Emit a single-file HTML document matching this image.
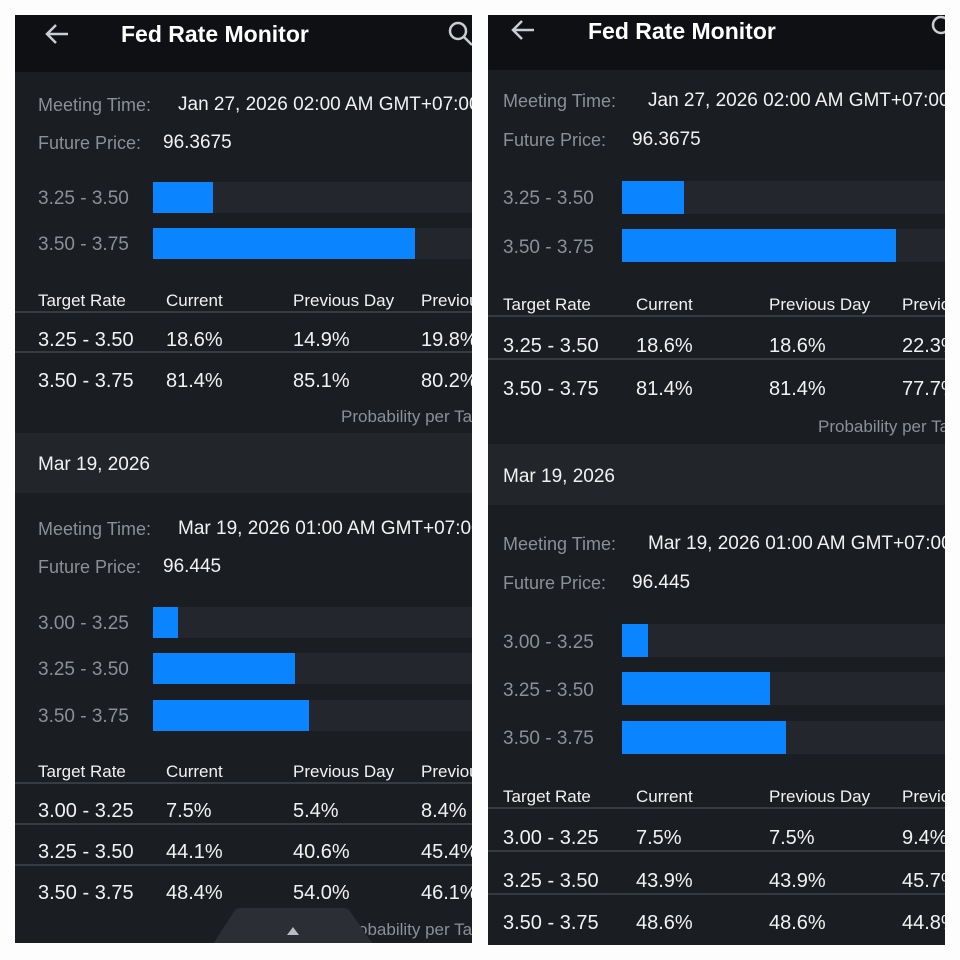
<!DOCTYPE html>
<html><head><meta charset="utf-8"><style>
*{margin:0;padding:0;box-sizing:border-box}
body{width:960px;height:960px;background:#fdfdfd;position:relative;overflow:hidden;font-family:"Liberation Sans",sans-serif}
.p{position:absolute;width:457px;overflow:hidden;background:#1a1d22}
.hd{position:absolute;left:0;top:0;width:100%;background:#0e1014}
.t{position:absolute;white-space:nowrap;line-height:24px;height:24px;color:#f2f2f2;margin-top:2px}
.g{color:#8b9097}
.tr{position:absolute;left:0;width:100%;height:2px;background:#363b42}
.trk{position:absolute;right:0;background:#23272d}
.bar{position:absolute;background:#0a84ff}
.band{position:absolute;left:0;width:100%;background:#22262b}
.ti{font-weight:bold;font-size:23px;color:#fff}
.th{font-size:17px}
.rw{font-size:20px}
</style></head><body>

<!-- LEFT PANEL -->
<div class="p" style="left:15px;top:15px;height:928px">
 <div class="hd" style="height:57px"></div>
 <svg style="position:absolute;left:29px;top:8px" width="26" height="22"><path d="M24 11H3M12 2L3 11l9 9" stroke="#c9ccd0" stroke-width="2.5" fill="none"/></svg>
 <div class="t ti" style="left:106px;top:5px">Fed Rate Monitor</div>
 <svg style="position:absolute;left:432px;top:5px" width="26" height="28"><circle cx="11" cy="11" r="8" stroke="#c9ccd0" stroke-width="2.5" fill="none"/><path d="M17 17l8 8" stroke="#c9ccd0" stroke-width="2.5"/></svg>

 <div class="t g" style="left:23px;top:76px;font-size:18px">Meeting Time:</div>
 <div class="t" style="left:163px;top:76px;font-size:19px">Jan 27, 2026 02:00 AM GMT+07:00</div>
 <div class="t g" style="left:23px;top:114px;font-size:18px">Future Price:</div>
 <div class="t" style="left:148px;top:114px;font-size:19px">96.3675</div>

 <div class="t g" style="left:23px;top:170px;font-size:19px">3.25 - 3.50</div>
 <div class="trk" style="left:138px;top:167px;height:31px"></div><div class="bar" style="left:138px;top:167px;height:31px;width:60px"></div>
 <div class="t g" style="left:23px;top:216px;font-size:19px">3.50 - 3.75</div>
 <div class="trk" style="left:138px;top:213px;height:31px"></div><div class="bar" style="left:138px;top:213px;height:31px;width:262px"></div>

 <div class="t th" style="left:23px;top:272px">Target Rate</div><div class="t th" style="left:151px;top:272px">Current</div><div class="t th" style="left:278px;top:272px">Previous Day</div><div class="t th" style="left:406px;top:272px">Previous Week</div>
 <div class="tr" style="top:296px"></div>
 <div class="t rw" style="left:23px;top:311px">3.25 - 3.50</div><div class="t rw" style="left:151px;top:311px">18.6%</div><div class="t rw" style="left:278px;top:311px">14.9%</div><div class="t rw" style="left:406px;top:311px">19.8%</div>
 <div class="tr" style="top:336px"></div>
 <div class="t rw" style="left:23px;top:352px">3.50 - 3.75</div><div class="t rw" style="left:151px;top:352px">81.4%</div><div class="t rw" style="left:278px;top:352px">85.1%</div><div class="t rw" style="left:406px;top:352px">80.2%</div>
 <div class="t g" style="left:326px;top:388px;font-size:17px">Probability per Target</div>

 <div class="band" style="top:418px;height:60px"></div>
 <div class="t" style="left:23px;top:436px;font-size:19px">Mar 19, 2026</div>

 <div class="t g" style="left:23px;top:500px;font-size:18px">Meeting Time:</div>
 <div class="t" style="left:163px;top:500px;font-size:19px">Mar 19, 2026 01:00 AM GMT+07:00</div>
 <div class="t g" style="left:23px;top:538px;font-size:18px">Future Price:</div>
 <div class="t" style="left:148px;top:538px;font-size:19px">96.445</div>

 <div class="t g" style="left:23px;top:595px;font-size:19px">3.00 - 3.25</div>
 <div class="trk" style="left:138px;top:592px;height:31px"></div><div class="bar" style="left:138px;top:592px;height:31px;width:25px"></div>
 <div class="t g" style="left:23px;top:641px;font-size:19px">3.25 - 3.50</div>
 <div class="trk" style="left:138px;top:638px;height:31px"></div><div class="bar" style="left:138px;top:638px;height:31px;width:142px"></div>
 <div class="t g" style="left:23px;top:688px;font-size:19px">3.50 - 3.75</div>
 <div class="trk" style="left:138px;top:685px;height:31px"></div><div class="bar" style="left:138px;top:685px;height:31px;width:156px"></div>

 <div class="t th" style="left:23px;top:743px">Target Rate</div><div class="t th" style="left:151px;top:743px">Current</div><div class="t th" style="left:278px;top:743px">Previous Day</div><div class="t th" style="left:406px;top:743px">Previous Week</div>
 <div class="tr" style="top:767px"></div>
 <div class="t rw" style="left:23px;top:782px">3.00 - 3.25</div><div class="t rw" style="left:151px;top:782px">7.5%</div><div class="t rw" style="left:278px;top:782px">5.4%</div><div class="t rw" style="left:406px;top:782px">8.4%</div>
 <div class="tr" style="top:808px"></div>
 <div class="t rw" style="left:23px;top:823px">3.25 - 3.50</div><div class="t rw" style="left:151px;top:823px">44.1%</div><div class="t rw" style="left:278px;top:823px">40.6%</div><div class="t rw" style="left:406px;top:823px">45.4%</div>
 <div class="tr" style="top:849px"></div>
 <div class="t rw" style="left:23px;top:864px">3.50 - 3.75</div><div class="t rw" style="left:151px;top:864px">48.4%</div><div class="t rw" style="left:278px;top:864px">54.0%</div><div class="t rw" style="left:406px;top:864px">46.1%</div>
 <div class="t g" style="left:326px;top:901px;font-size:17px">Probability per Target</div>
 <svg style="position:absolute;left:198px;top:893px" width="160" height="36"><path d="M0 36L22 2Q24 0 28 0H130Q134 0 136 2L160 36Z" fill="#2b2f35"/><path d="M74 27l6-8 6 8z" fill="#b9bcc0"/></svg>
</div>

<!-- RIGHT PANEL -->
<div class="p" style="left:488px;top:15px;height:930px">
 <div class="hd" style="height:55px"></div>
 <svg style="position:absolute;left:22px;top:4px" width="26" height="22"><path d="M24 11H3M12 2L3 11l9 9" stroke="#c9ccd0" stroke-width="2.5" fill="none"/></svg>
 <div class="t ti" style="left:100px;top:2px">Fed Rate Monitor</div>
 <svg style="position:absolute;left:442px;top:0px" width="26" height="28"><circle cx="11" cy="10" r="8" stroke="#c9ccd0" stroke-width="2.5" fill="none"/></svg>

 <div class="t g" style="left:15px;top:72px;font-size:18px">Meeting Time:</div>
 <div class="t" style="left:160px;top:72px;font-size:19px">Jan 27, 2026 02:00 AM GMT+07:00</div>
 <div class="t g" style="left:15px;top:111px;font-size:18px">Future Price:</div>
 <div class="t" style="left:144px;top:111px;font-size:19px">96.3675</div>

 <div class="t g" style="left:15px;top:170px;font-size:19px">3.25 - 3.50</div>
 <div class="trk" style="left:134px;top:166px;height:33px"></div><div class="bar" style="left:134px;top:166px;height:33px;width:62px"></div>
 <div class="t g" style="left:15px;top:219px;font-size:19px">3.50 - 3.75</div>
 <div class="trk" style="left:134px;top:214px;height:33px"></div><div class="bar" style="left:134px;top:214px;height:33px;width:274px"></div>

 <div class="t th" style="left:15px;top:276px">Target Rate</div><div class="t th" style="left:148px;top:276px">Current</div><div class="t th" style="left:281px;top:276px">Previous Day</div><div class="t th" style="left:414px;top:276px">Previous Week</div>
 <div class="tr" style="top:300px"></div>
 <div class="t rw" style="left:15px;top:317px">3.25 - 3.50</div><div class="t rw" style="left:148px;top:317px">18.6%</div><div class="t rw" style="left:281px;top:317px">18.6%</div><div class="t rw" style="left:414px;top:317px">22.3%</div>
 <div class="tr" style="top:343px"></div>
 <div class="t rw" style="left:15px;top:360px">3.50 - 3.75</div><div class="t rw" style="left:148px;top:360px">81.4%</div><div class="t rw" style="left:281px;top:360px">81.4%</div><div class="t rw" style="left:414px;top:360px">77.7%</div>
 <div class="t g" style="left:330px;top:398px;font-size:17px">Probability per Target</div>

 <div class="band" style="top:429px;height:61px"></div>
 <div class="t" style="left:15px;top:448px;font-size:19px">Mar 19, 2026</div>

 <div class="t g" style="left:15px;top:515px;font-size:18px">Meeting Time:</div>
 <div class="t" style="left:160px;top:515px;font-size:19px">Mar 19, 2026 01:00 AM GMT+07:00</div>
 <div class="t g" style="left:15px;top:554px;font-size:18px">Future Price:</div>
 <div class="t" style="left:144px;top:554px;font-size:19px">96.445</div>

 <div class="t g" style="left:15px;top:614px;font-size:19px">3.00 - 3.25</div>
 <div class="trk" style="left:134px;top:609px;height:33px"></div><div class="bar" style="left:134px;top:609px;height:33px;width:26px"></div>
 <div class="t g" style="left:15px;top:662px;font-size:19px">3.25 - 3.50</div>
 <div class="trk" style="left:134px;top:657px;height:33px"></div><div class="bar" style="left:134px;top:657px;height:33px;width:148px"></div>
 <div class="t g" style="left:15px;top:710px;font-size:19px">3.50 - 3.75</div>
 <div class="trk" style="left:134px;top:706px;height:33px"></div><div class="bar" style="left:134px;top:706px;height:33px;width:164px"></div>

 <div class="t th" style="left:15px;top:768px">Target Rate</div><div class="t th" style="left:148px;top:768px">Current</div><div class="t th" style="left:281px;top:768px">Previous Day</div><div class="t th" style="left:414px;top:768px">Previous Week</div>
 <div class="tr" style="top:792px"></div>
 <div class="t rw" style="left:15px;top:809px">3.00 - 3.25</div><div class="t rw" style="left:148px;top:809px">7.5%</div><div class="t rw" style="left:281px;top:809px">7.5%</div><div class="t rw" style="left:414px;top:809px">9.4%</div>
 <div class="tr" style="top:835px"></div>
 <div class="t rw" style="left:15px;top:852px">3.25 - 3.50</div><div class="t rw" style="left:148px;top:852px">43.9%</div><div class="t rw" style="left:281px;top:852px">43.9%</div><div class="t rw" style="left:414px;top:852px">45.7%</div>
 <div class="tr" style="top:878px"></div>
 <div class="t rw" style="left:15px;top:894px">3.50 - 3.75</div><div class="t rw" style="left:148px;top:894px">48.6%</div><div class="t rw" style="left:281px;top:894px">48.6%</div><div class="t rw" style="left:414px;top:894px">44.8%</div>
</div>
</body></html>
